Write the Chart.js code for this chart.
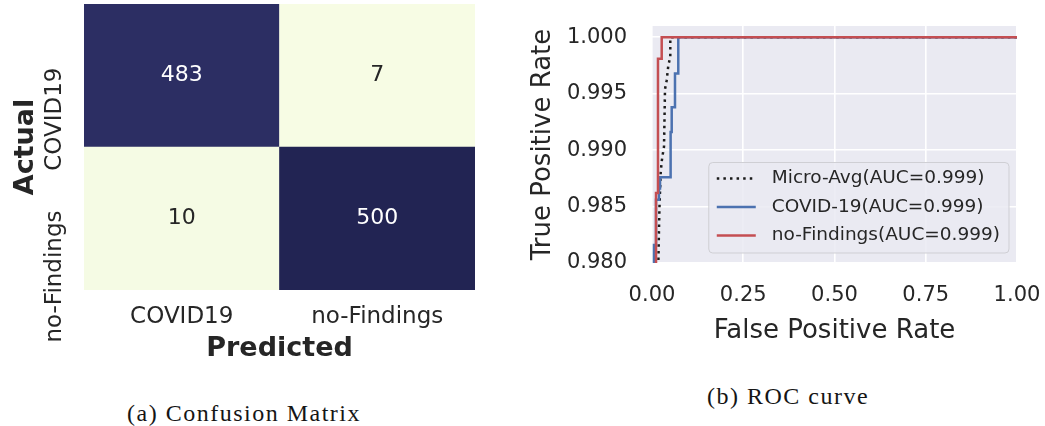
<!DOCTYPE html>
<html>
<head>
<meta charset="utf-8">
<script src="https://cdn.jsdelivr.net/npm/chart.js@4.4.0/dist/chart.umd.min.js"></script>
<style>
  html, body { margin: 0; padding: 0; background: #fff; width: 1045px; height: 426px; overflow: hidden; }
  #cm  { position: absolute; left: 0; top: 0; width: 520px; height: 370px; }
  #roc { position: absolute; left: 520px; top: 0; width: 525px; height: 370px; }
  .cap { position: absolute; font-family: "Liberation Serif", "DejaVu Serif", serif; color: #151515;
         white-space: nowrap; transform: translate(-50%, -50%); }
</style>
</head>
<body>
<canvas id="cm" width="520" height="370"></canvas>
<canvas id="roc" width="525" height="370"></canvas>
<div class="cap" style="left:244px; top:413px; font-size:24px; letter-spacing:1.5px;">(a) Confusion Matrix</div>
<div class="cap" style="left:788px; top:396px; font-size:24px; letter-spacing:1.5px;">(b) ROC curve</div>

<script>
// ---- confusion matrix ----
const classNames = ['COVID19', 'no-Findings'];
const actualCOVID = [483, 7];        // predicted COVID19, predicted no-Findings
const actualNoFindings = [10, 500];

// ---- ROC curves ----
const fprMicro = [0.0173, 0.0173, 0.0192, 0.0205, 0.0238, 0.0266, 0.0293, 0.0329, 0.0342, 0.0356, 0.0403, 0.0447, 0.0501, 0.0501, 1.0];
const tprMicro = [0.9750, 0.9798, 0.9831, 0.9850, 0.9880, 0.9890, 0.9896, 0.9903, 0.9927, 0.9954, 0.9962, 0.9975, 0.9983, 1.0, 1.0];

const fprCovid = [0.0055, 0.0055, 0.011, 0.011, 0.019, 0.019, 0.022, 0.022, 0.051, 0.051, 0.054, 0.054, 0.063, 0.063, 0.072, 0.072, 1.0];
const tprCovid = [0.975, 0.9816, 0.9816, 0.9856, 0.9856, 0.9866, 0.9866, 0.9876, 0.9876, 0.9916, 0.9916, 0.9938, 0.9938, 0.9968, 0.9968, 1.0, 1.0];

const fprNoFind = [0.011, 0.011, 0.0164, 0.0164, 0.0266, 0.0266, 1.0];
const tprNoFind = [0.975, 0.9862, 0.9862, 0.9981, 0.9981, 1.0, 1.0];

const aucMicro = 0.999, aucCovid = 0.999, aucNoFind = 0.999;

const rocXTicks = [0, 0.25, 0.5, 0.75, 1.0];
const rocYTicks = [0.98, 0.985, 0.99, 0.995, 1.0];

// ---------------------------------------------------------------
const TEXT = '#262626';
const SANS = '"DejaVu Sans", sans-serif';

// light-to-navy colour ramp for the heatmap cells
const rampStops = [
  [0.0, [247, 252, 228]],
  [0.5, [120, 170, 190]],
  [0.9, [64, 66, 130]],
  [1.0, [34, 36, 83]]
];
function rampColor(t) {
  for (let i = 1; i < rampStops.length; i++) {
    const [t1, c1] = rampStops[i];
    const [t0, c0] = rampStops[i - 1];
    if (t <= t1) {
      const f = (t - t0) / (t1 - t0);
      const c = c0.map((v, k) => Math.round(v + (c1[k] - v) * f));
      return `rgb(${c[0]},${c[1]},${c[2]})`;
    }
  }
  const c = rampStops[rampStops.length - 1][1];
  return `rgb(${c[0]},${c[1]},${c[2]})`;
}
const allCounts = actualCOVID.concat(actualNoFindings);
const cMin = Math.min(...allCounts), cMax = Math.max(...allCounts);
const norm = v => (v - cMin) / (cMax - cMin);

// rows stacked bottom-up: no-Findings row at bottom, COVID19 row on top
const rows = [
  { name: 'no-Findings', counts: actualNoFindings },
  { name: 'COVID19', counts: actualCOVID }
];

const cellLabels = {
  id: 'cellLabels',
  afterDatasetsDraw(chart) {
    const ctx = chart.ctx;
    ctx.save();
    ctx.font = '22px ' + SANS;
    ctx.textAlign = 'center';
    ctx.textBaseline = 'middle';
    chart.data.datasets.forEach((ds, di) => {
      const meta = chart.getDatasetMeta(di);
      meta.data.forEach((bar, j) => {
        const v = ds.counts[j];
        ctx.fillStyle = norm(v) > 0.5 ? '#ffffff' : TEXT;
        ctx.fillText(String(v), bar.x, (bar.y + bar.base) / 2);
      });
    });
    ctx.restore();
  }
};

const rowTickLabels = {
  id: 'rowTickLabels',
  afterDraw(chart) {
    const ctx = chart.ctx;
    const ys = chart.scales.y;
    ctx.save();
    ctx.font = '23px ' + SANS;
    ctx.fillStyle = TEXT;
    ctx.textAlign = 'right';
    ctx.textBaseline = 'middle';
    rows.forEach((r, i) => {
      const yc = ys.getPixelForValue(i + 0.5);
      ctx.save();
      ctx.translate(55, yc - 8);
      ctx.rotate(-Math.PI / 2);
      ctx.fillText(r.name, 0, 0);
      ctx.restore();
    });
    ctx.restore();
  }
};

new Chart(document.getElementById('cm'), {
  type: 'bar',
  data: {
    labels: classNames,
    datasets: rows.map(r => ({
      label: r.name,
      counts: r.counts,
      data: r.counts.map(() => 1),
      backgroundColor: r.counts.map(v => rampColor(norm(v))),
      borderWidth: 0,
      barPercentage: 1.0,
      categoryPercentage: 1.0
    }))
  },
  options: {
    responsive: false,
    animation: false,
    devicePixelRatio: 1,
    layout: { padding: { top: 4, right: 45, left: 0, bottom: 0 } },
    plugins: { legend: { display: false }, tooltip: { enabled: false } },
    scales: {
      x: {
        stacked: true,
        grid: { display: false, drawTicks: false },
        border: { display: false },
        ticks: { font: { family: SANS, size: 23 }, color: TEXT, padding: 13 },
        title: { display: true, text: 'Predicted', color: TEXT,
                 font: { family: SANS, size: 27, weight: 'bold' }, padding: { top: 0, bottom: 5 } },
        afterFit(s) { s.height = 80; s.paddingLeft = 0; s.paddingRight = 0; }
      },
      y: {
        stacked: true,
        min: 0, max: 2,
        grid: { display: false, drawTicks: false },
        border: { display: false },
        ticks: { display: false },
        title: { display: true, text: 'Actual', color: TEXT,
                 font: { family: SANS, size: 27, weight: 'bold' }, padding: { top: 10, bottom: 0 } },
        afterFit(s) { s.width = 84; s.paddingTop = 0; s.paddingBottom = 0; }
      }
    }
  },
  plugins: [cellLabels, rowTickLabels]
});

// ---------------------------------------------------------------
const toPoints = (xs, ys) => xs.map((x, i) => ({ x: x, y: ys[i] }));

const plotBackground = {
  id: 'plotBackground',
  beforeDraw(chart) {
    const a = chart.chartArea, ctx = chart.ctx;
    ctx.save();
    ctx.fillStyle = '#eaeaf2';
    ctx.fillRect(a.left, a.top, a.right - a.left, a.bottom - a.top);
    ctx.restore();
  }
};

const boxLegend = {
  id: 'boxLegend',
  afterDraw(chart) {
    const ctx = chart.ctx, a = chart.chartArea;
    const items = chart.data.datasets.map(d => d);
    ctx.save();
    ctx.font = '18.5px ' + SANS;
    const textW = Math.max(...items.map(d => ctx.measureText(d.label).width));
    const rowH = 28.5, padX = 8, lineLen = 39, gap = 16;
    const w = padX + lineLen + gap + textW + 9;
    const h = rowH * items.length + 5;
    const right = a.right - 8, bottom = a.bottom - 10;
    const left = right - w, top = bottom - h;
    ctx.beginPath();
    ctx.roundRect(left, top, w, h, 4);
    ctx.fillStyle = 'rgba(234,234,242,0.85)';
    ctx.fill();
    ctx.lineWidth = 1;
    ctx.strokeStyle = '#cfcfd4';
    ctx.stroke();
    items.forEach((d, i) => {
      const yc = top + 16 + i * rowH;
      ctx.beginPath();
      ctx.setLineDash(d.borderDash || []);
      ctx.lineWidth = d.borderWidth;
      ctx.strokeStyle = d.borderColor;
      ctx.moveTo(left + padX, yc);
      ctx.lineTo(left + padX + lineLen, yc);
      ctx.stroke();
      ctx.setLineDash([]);
      ctx.fillStyle = TEXT;
      ctx.textAlign = 'left';
      ctx.textBaseline = 'middle';
      ctx.fillText(d.label, left + padX + lineLen + gap, yc);
    });
    ctx.restore();
  }
};

new Chart(document.getElementById('roc'), {
  type: 'line',
  data: {
    datasets: [
      { label: `Micro-Avg(AUC=${aucMicro.toFixed(3)})`, data: toPoints(fprMicro, tprMicro),
        borderColor: '#1a1a1a', borderWidth: 2.5, borderDash: [2.5, 4.1], pointRadius: 0, order: 2 },
      { label: `COVID-19(AUC=${aucCovid.toFixed(3)})`, data: toPoints(fprCovid, tprCovid),
        borderColor: '#4c72b0', borderWidth: 2.5, pointRadius: 0, order: 1 },
      { label: `no-Findings(AUC=${aucNoFind.toFixed(3)})`, data: toPoints(fprNoFind, tprNoFind),
        borderColor: '#c44e52', borderWidth: 2.5, pointRadius: 0, order: 0 }
    ]
  },
  options: {
    responsive: false,
    animation: false,
    devicePixelRatio: 1,
    layout: { padding: { top: 26, right: 28, left: 0, bottom: 0 } },
    elements: { line: { tension: 0, borderCapStyle: 'butt' } },
    plugins: { legend: { display: false }, tooltip: { enabled: false } },
    scales: {
      x: {
        type: 'linear', min: 0, max: 1,
        afterBuildTicks(s) { s.ticks = rocXTicks.map(v => ({ value: v })); },
        grid: { color: '#ffffff', lineWidth: 1.6, drawTicks: false },
        border: { display: false },
        ticks: { font: { family: SANS, size: 21 }, color: TEXT, padding: 20,
                 callback: v => Number(v).toFixed(2) },
        title: { display: true, text: 'False Positive Rate', color: TEXT,
                 font: { family: SANS, size: 26 }, padding: { top: 0, bottom: 23 } },
        afterFit(s) { s.height = 107; s.paddingLeft = 0; s.paddingRight = 0; }
      },
      y: {
        type: 'linear', min: 0.98, max: 1.001,
        afterBuildTicks(s) { s.ticks = rocYTicks.map(v => ({ value: v })); },
        grid: { color: '#ffffff', lineWidth: 1.6, drawTicks: false },
        border: { display: false },
        ticks: { font: { family: SANS, size: 21 }, color: TEXT, padding: 25,
                 callback: v => Number(v).toFixed(3) },
        title: { display: true, text: 'True Positive Rate', color: TEXT,
                 font: { family: SANS, size: 26 }, padding: { top: 7.5, bottom: 0 } },
        afterFit(s) { s.width = 132; s.paddingTop = 0; s.paddingBottom = 0; }
      }
    }
  },
  plugins: [plotBackground, boxLegend]
});
</script>
</body>
</html>
